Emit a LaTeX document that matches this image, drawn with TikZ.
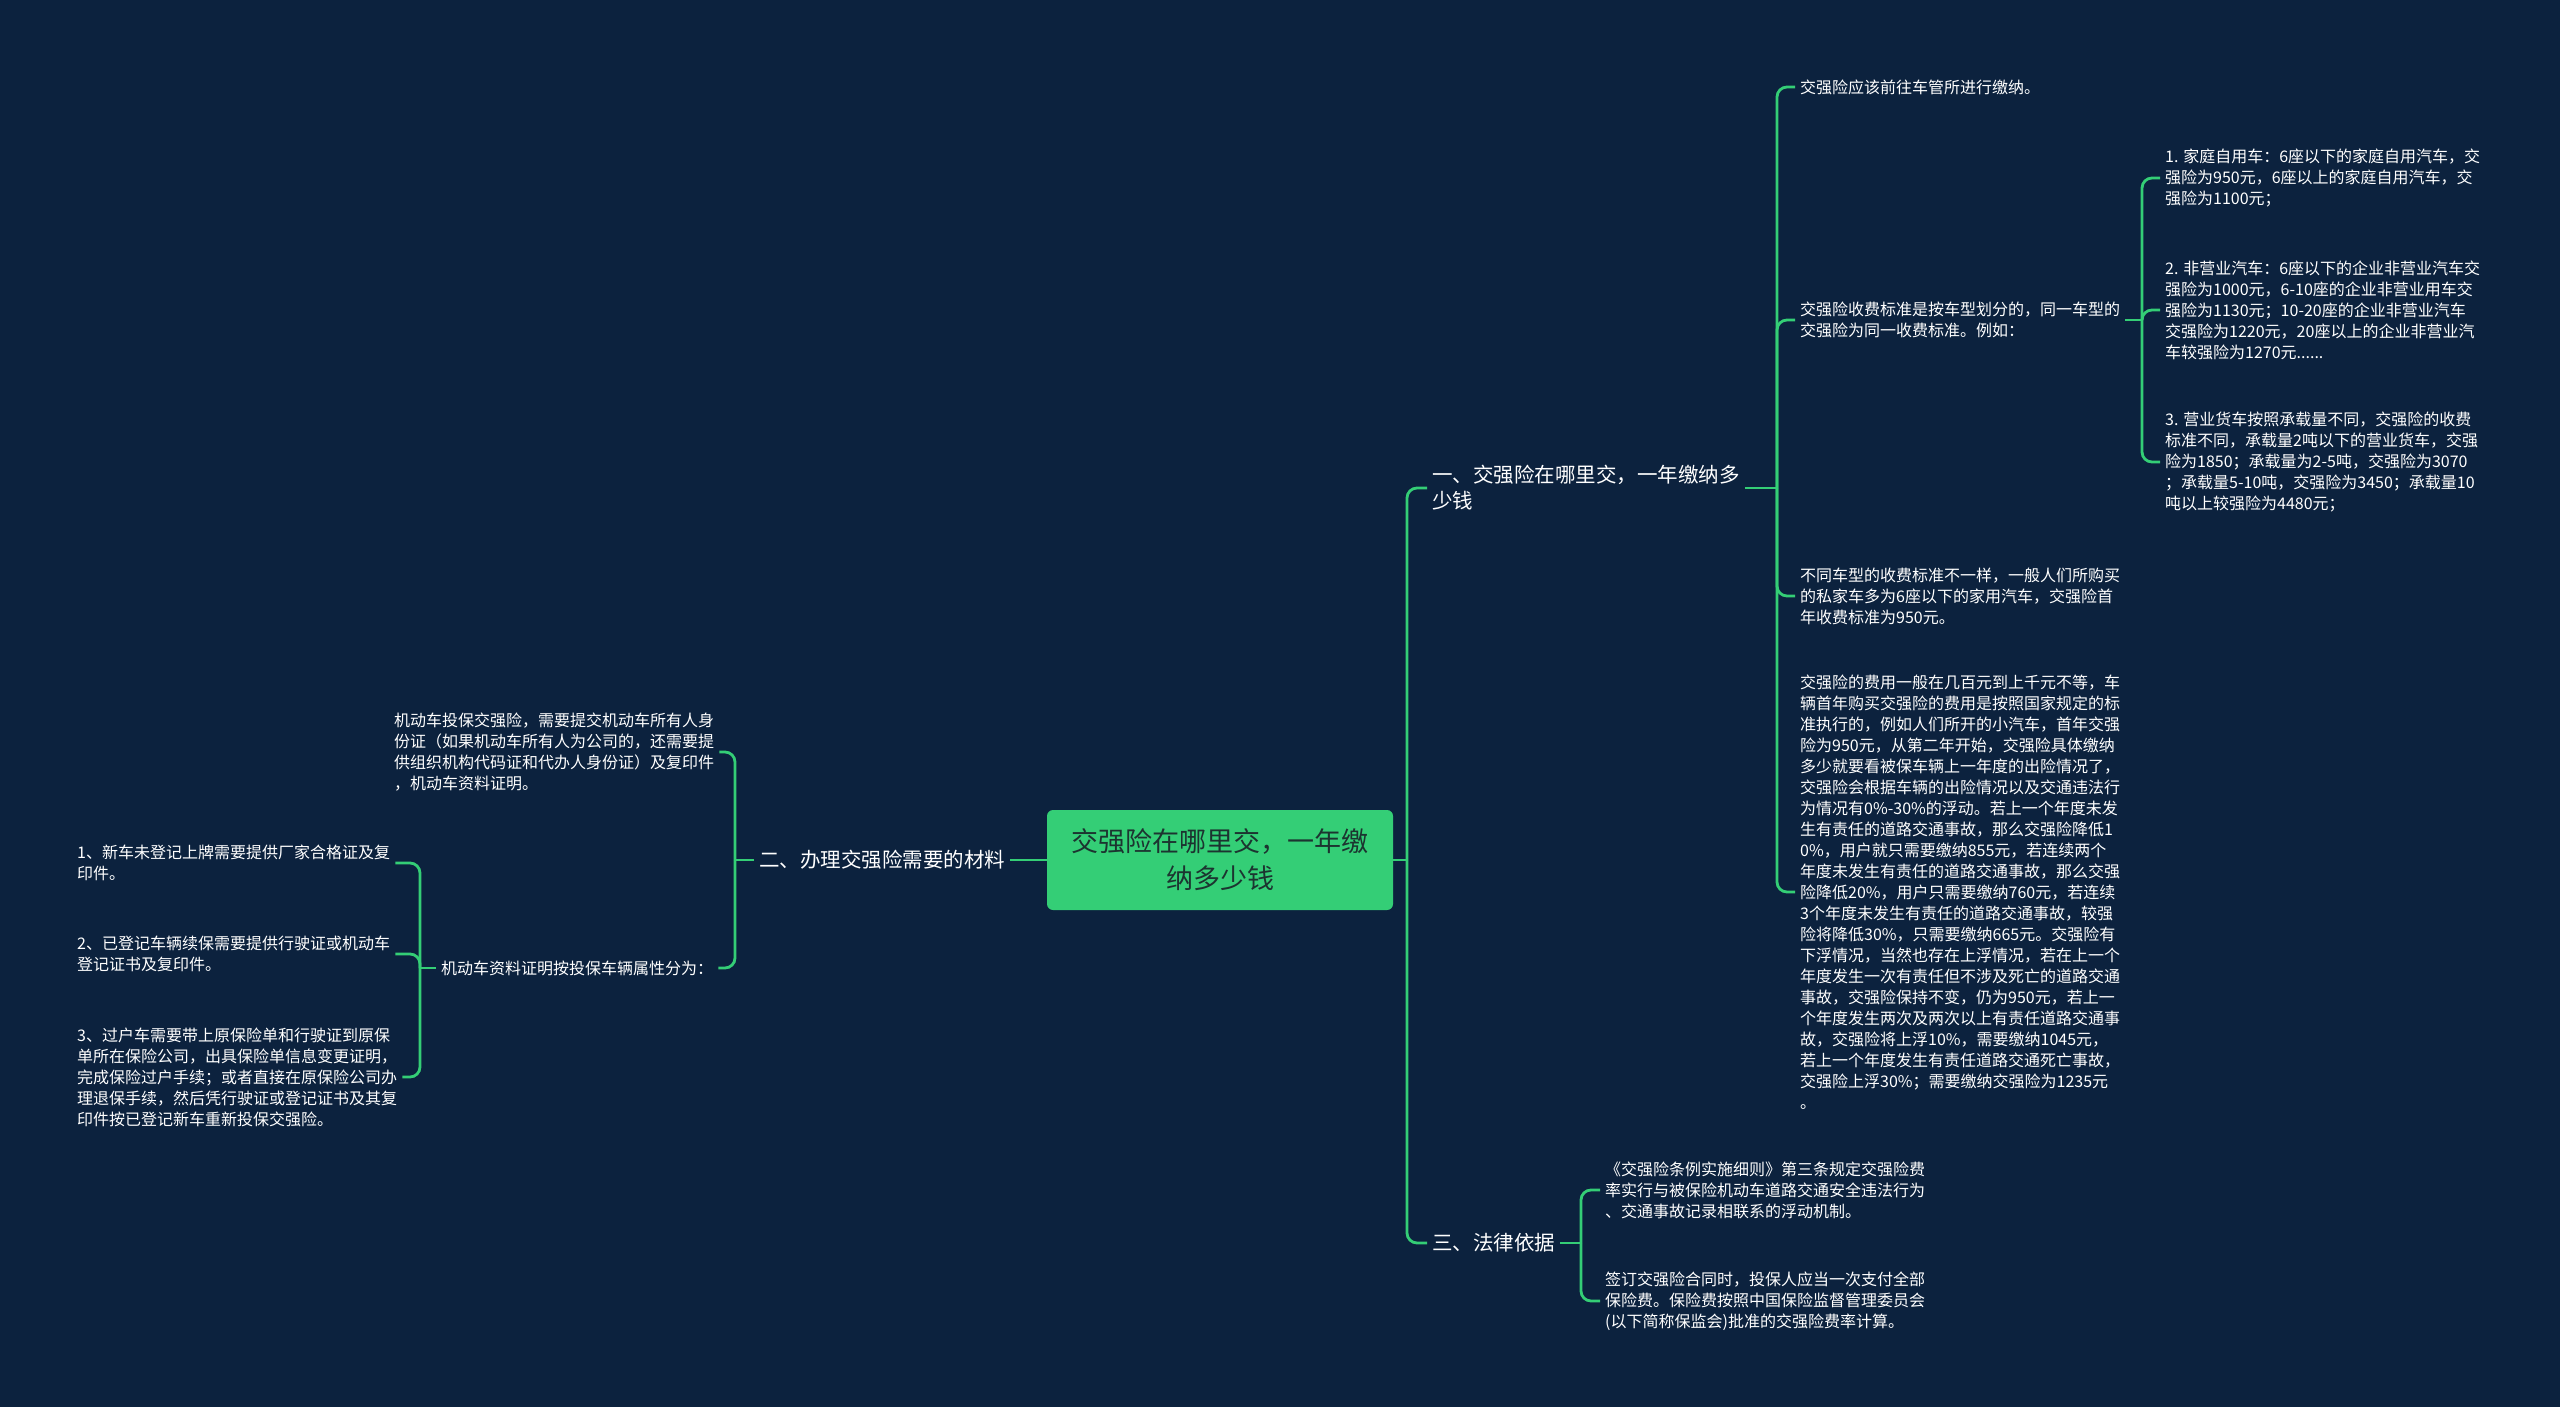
\documentclass[tikz,border=0pt]{standalone}
\usepackage{fontspec}
\setmainfont{Noto Sans CJK SC}
\definecolor{bg}{RGB}{12,34,62}
\definecolor{grn}{RGB}{52,206,118}
\definecolor{roottext}{RGB}{28,52,48}
\begin{document}
\begin{tikzpicture}[x=1pt,y=-1pt,
  conn/.style={draw=grn,line width=2.8pt,rounded corners=10pt},
  small/.style={text=white,font=\fontsize{16}{21}\selectfont,align=left,inner sep=5pt},
  lvl/.style={text=white,font=\fontsize{20.5}{26}\selectfont,align=left,inner sep=5pt},
  rootbox/.style={fill=grn,rounded corners=6pt,text=roottext,font=\fontsize{27}{37}\selectfont,align=center,minimum width=346pt,minimum height=100pt,inner sep=0pt}
]
\fill[bg] (0,0) rectangle (2560,1407);
\useasboundingbox (0,0) rectangle (2560,1407);

% root
\node[rootbox] (root) at (1220,860) {交强险在哪里交，一年缴\\纳多少钱};

% level 1
\node[lvl,anchor=west] (n1) at (1427,488) {一、交强险在哪里交，一年缴纳多\\少钱};
\node[lvl,anchor=west] (n2) at (754,860) {二、办理交强险需要的材料};
\node[lvl,anchor=west] (n3) at (1427,1243) {三、法律依据};

% children of n1
\node[small,anchor=west] (a1) at (1795,87) {交强险应该前往车管所进行缴纳。};
\node[small,anchor=west] (a2) at (1795,320) {交强险收费标准是按车型划分的，同一车型的\\交强险为同一收费标准。例如：};
\node[small,anchor=west] (a3) at (1795,596) {不同车型的收费标准不一样，一般人们所购买\\的私家车多为6座以下的家用汽车，交强险首\\年收费标准为950元。};
\node[small,anchor=west] (a4) at (1795,892) {交强险的费用一般在几百元到上千元不等，车\\辆首年购买交强险的费用是按照国家规定的标\\准执行的，例如人们所开的小汽车，首年交强\\险为950元，从第二年开始，交强险具体缴纳\\多少就要看被保车辆上一年度的出险情况了，\\交强险会根据车辆的出险情况以及交通违法行\\为情况有0\%-30\%的浮动。若上一个年度未发\\生有责任的道路交通事故，那么交强险降低1\\0\%，用户就只需要缴纳855元，若连续两个\\年度未发生有责任的道路交通事故，那么交强\\险降低20\%，用户只需要缴纳760元，若连续\\3个年度未发生有责任的道路交通事故，较强\\险将降低30\%，只需要缴纳665元。交强险有\\下浮情况，当然也存在上浮情况，若在上一个\\年度发生一次有责任但不涉及死亡的道路交通\\事故，交强险保持不变，仍为950元，若上一\\个年度发生两次及两次以上有责任道路交通事\\故，交强险将上浮10\%，需要缴纳1045元，\\若上一个年度发生有责任道路交通死亡事故，\\交强险上浮30\%；需要缴纳交强险为1235元\\。};

% children of a2
\node[small,anchor=west] (b1) at (2160,178) {1. 家庭自用车：6座以下的家庭自用汽车，交\\强险为950元，6座以上的家庭自用汽车，交\\强险为1100元；};
\node[small,anchor=west] (b2) at (2160,310) {2. 非营业汽车：6座以下的企业非营业汽车交\\强险为1000元，6-10座的企业非营业用车交\\强险为1130元；10-20座的企业非营业汽车\\交强险为1220元，20座以上的企业非营业汽\\车较强险为1270元......};
\node[small,anchor=west] (b3) at (2160,462) {3. 营业货车按照承载量不同，交强险的收费\\标准不同，承载量2吨以下的营业货车，交强\\险为1850；承载量为2-5吨，交强险为3070\\；承载量5-10吨，交强险为3450；承载量10\\吨以上较强险为4480元；};

% children of n3
\node[small,anchor=west] (c1) at (1600,1190) {《交强险条例实施细则》第三条规定交强险费\\率实行与被保险机动车道路交通安全违法行为\\、交通事故记录相联系的浮动机制。};
\node[small,anchor=west] (c2) at (1600,1301) {签订交强险合同时，投保人应当一次支付全部\\保险费。保险费按照中国保险监督管理委员会\\(以下简称保监会)批准的交强险费率计算。};

% children of n2
\node[small,anchor=west] (d1) at (389,752) {机动车投保交强险，需要提交机动车所有人身\\份证（如果机动车所有人为公司的，还需要提\\供组织机构代码证和代办人身份证）及复印件\\，机动车资料证明。};
\node[small,anchor=west] (d2) at (436,968) {机动车资料证明按投保车辆属性分为：};

% children of d2
\node[small,anchor=west] (e1) at (72,863) {1、新车未登记上牌需要提供厂家合格证及复\\印件。};
\node[small,anchor=west] (e2) at (72,954) {2、已登记车辆续保需要提供行驶证或机动车\\登记证书及复印件。};
\node[small,anchor=west] (e3) at (72,1077) {3、过户车需要带上原保险单和行驶证到原保\\单所在保险公司，出具保险单信息变更证明，\\完成保险过户手续；或者直接在原保险公司办\\理退保手续，然后凭行驶证或登记证书及其复\\印件按已登记新车重新投保交强险。};

% junctions
\coordinate (jR) at (1407,860);
\coordinate (j1) at (1777,488);
\coordinate (jA) at (2142,320);
\coordinate (j3) at (1581,1243);
\coordinate (j2) at (735,860);
\coordinate (jD) at (420,968);

% connectors
\draw[conn] (root.east) -- (jR);
\draw[conn] (jR) |- (n1.west);
\draw[conn] (jR) |- (n3.west);
\draw[conn] (root.west) -- (n2.east);

\draw[conn] (n1.east) -- (j1);
\draw[conn] (j1) |- (a1.west);
\draw[conn] (j1) |- (a2.west);
\draw[conn] (j1) |- (a3.west);
\draw[conn] (j1) |- (a4.west);

\draw[conn] (a2.east) -- (jA);
\draw[conn] (jA) |- (b1.west);
\draw[conn] (jA) |- (b2.west);
\draw[conn] (jA) |- (b3.west);

\draw[conn] (n3.east) -- (j3);
\draw[conn] (j3) |- (c1.west);
\draw[conn] (j3) |- (c2.west);

\draw[conn] (n2.west) -- (j2);
\draw[conn] (j2) |- (d1.east);
\draw[conn] (j2) |- (d2.east);

\draw[conn] (d2.west) -- (jD);
\draw[conn] (jD) |- (e1.east);
\draw[conn] (jD) |- (e2.east);
\draw[conn] (jD) |- (e3.east);
\end{tikzpicture}
\end{document}
